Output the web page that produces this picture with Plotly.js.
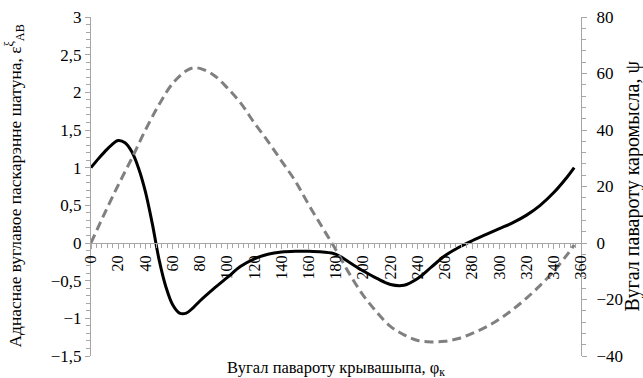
<!DOCTYPE html>
<html>
<head>
<meta charset="utf-8">
<script src="https://cdn.plot.ly/plotly-3.0.1.min.js"></script>
<style>html,body{margin:0;padding:0;background:#fff;}#chart{width:643px;height:378px;}</style>
</head>
<body>
<div id="chart"></div>
<script>
// Crank angle, degrees
const angleEps = [0,5,10,15,20,25,30,35,40,45,50,55,60,65,70,75,80,90,100,110,120,130,140,150,160,170,180,190,200,210,220,230,240,250,260,270,280,290,300,310,320,330,340,350,355];
// Angular acceleration of connecting rod (left axis)
const epsAB = [1.00,1.11,1.21,1.30,1.36,1.33,1.21,0.99,0.68,0.26,-0.22,-0.58,-0.82,-0.93,-0.93,-0.86,-0.77,-0.61,-0.46,-0.31,-0.21,-0.15,-0.12,-0.11,-0.11,-0.12,-0.15,-0.26,-0.37,-0.47,-0.55,-0.56,-0.47,-0.32,-0.17,-0.06,0.03,0.11,0.19,0.27,0.37,0.50,0.67,0.88,1.00];
// Crank angle for rocker angle series
const anglePsi = [0,10,20,30,40,50,60,70,75,80,90,100,110,120,130,140,150,160,170,180,190,200,210,220,230,240,250,260,270,280,290,300,310,320,330,340,350,355];
// Rocker rotation angle psi (right axis)
const psi = [0,10.5,20.5,30,40,49,56.5,61,62,61.8,59.5,55,49.5,42.5,36,29,22,13.5,5.5,-2.5,-11,-18.5,-24.5,-29.5,-32.5,-34.5,-35,-34.8,-33.8,-32,-29.8,-27,-23.5,-19.5,-15,-10,-4,-0.7];

const xTicks = [0,20,40,60,80,100,120,140,160,180,200,220,240,260,280,300,320,340,360];
const leftTicks = [-1.5,-1,-0.5,0,0.5,1,1.5,2,2.5,3];
const rightTicks = [-40,-20,0,20,40,60,80];

const leftTitle = 'Аднаснае вуглавое паскарэнне шатуна, ε<sup>ξ</sup><sub>AB</sub>';
const rightTitle = 'Вугал павароту каромысла, ψ';
const xTitle = 'Вугал павароту крывашыпа, φ<sub>к</sub>';

const serif = 'Liberation Serif, Times New Roman, serif';
const axisCol = '#a6a6a6';

const traces = [
  {x: angleEps, y: epsAB, type: 'scatter', mode: 'lines', yaxis: 'y',
   line: {color: '#000000', width: 3, shape: 'spline', smoothing: 1}},
  {x: anglePsi, y: psi, type: 'scatter', mode: 'lines', yaxis: 'y2',
   line: {color: '#808080', width: 3, dash: '9px,5px', shape: 'spline', smoothing: 1}}
];

const layout = {
  width: 643, height: 378,
  margin: {l: 91, r: 62, t: 17, b: 22},
  paper_bgcolor: '#ffffff', plot_bgcolor: '#ffffff',
  showlegend: false,
  separators: ', ',
  font: {family: serif, size: 15, color: '#000000'},
  xaxis: {
    range: [0, 360], anchor: 'free', position: 1.5/4.5,
    tickvals: xTicks, ticktext: xTicks.map(String), tickangle: -90,
    showline: true, linecolor: axisCol, linewidth: 1,
    ticks: 'outside', ticklen: 5, tickcolor: axisCol,
    minor: {dtick: 4, ticks: 'outside', ticklen: 4, tickcolor: axisCol},
    showgrid: false, zeroline: false,
    tickfont: {family: serif, size: 16, color: '#000'}
  },
  yaxis: {
    range: [-1.5, 3], tickvals: leftTicks,
    showline: true, linecolor: axisCol, linewidth: 1,
    ticks: 'outside', ticklen: 5, tickcolor: axisCol,
    minor: {dtick: 0.1, ticks: 'outside', ticklen: 4, tickcolor: axisCol},
    showgrid: false, zeroline: false,
    tickfont: {family: serif, size: 17, color: '#000'}
  },
  yaxis2: {
    range: [-40, 80], tickvals: rightTicks, overlaying: 'y', side: 'right',
    showline: true, linecolor: axisCol, linewidth: 1,
    ticks: 'outside', ticklen: 5, tickcolor: axisCol,
    minor: {dtick: 4, ticks: 'outside', ticklen: 4, tickcolor: axisCol},
    showgrid: false, zeroline: false, ticklabelstandoff: 6,
    tickfont: {family: serif, size: 17, color: '#000'}
  },
  annotations: [
    {text: leftTitle, xref: 'paper', yref: 'paper', x: 0, y: 0.5, xshift: -76,
     xanchor: 'center', yanchor: 'middle', textangle: -90, showarrow: false,
     font: {family: serif, size: 17.4, color: '#000'}},
    {text: rightTitle, xref: 'paper', yref: 'paper', x: 1, y: 0.5, xshift: 51,
     xanchor: 'center', yanchor: 'middle', textangle: -90, showarrow: false,
     font: {family: serif, size: 20, color: '#000'}},
    {text: xTitle, xref: 'paper', yref: 'paper', x: 0.5, y: 0, yshift: -12,
     xanchor: 'center', yanchor: 'middle', showarrow: false,
     font: {family: serif, size: 16.5, color: '#000'}}
  ]
};

Plotly.newPlot('chart', traces, layout, {staticPlot: true, displayModeBar: false});
</script>
</body>
</html>
